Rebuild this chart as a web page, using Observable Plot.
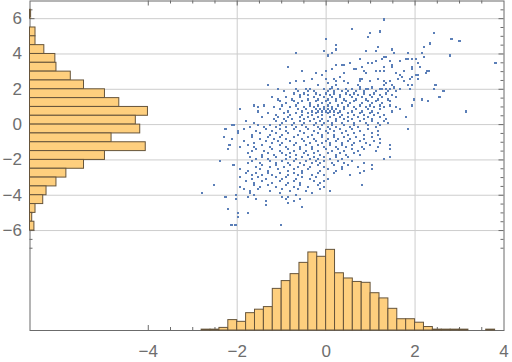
<!DOCTYPE html>
<html><head><meta charset="utf-8">
<script src="https://cdn.jsdelivr.net/npm/d3@7"></script>
<script src="https://cdn.jsdelivr.net/npm/@observablehq/plot@0.6"></script>
<style>
html,body{margin:0;padding:0;background:#fff;}
#chart{position:relative;width:512px;height:362px;overflow:hidden;}
#chart svg{position:absolute;left:0;top:0;}
</style></head><body><div id="chart"></div>
<script>
// ---- tick labels / grid ----
const xTickLabels = [-4, -2, 0, 2, 4];
const yTickLabels = [-6, -4, -2, 0, 2, 4, 6];
const xGridValues = [-2, 0, 2];
const yGridValues = [-6, -4, -2, 0, 2, 4, 6];
const xMajorTicks = [-4, -2, 0, 2];
const xMinorTicks = [-3.5, -3, -2.5, -1.5, -1, -0.5, 0.5, 1, 1.5, 2.5, 3, 3.5];
const yMajorTicks = [-6, -4, -2, 0, 2, 4, 6];
const yMinorTicks = [-7, -6.5, -5.5, -5, -4.5, -3.5, -3, -2.5, -1.5, -1, -0.5, 0.5, 1, 1.5, 2.5, 3, 3.5, 4.5, 5, 5.5, 6.5];

// ---- marginal histogram of x (bin width 0.2) ----
const xBinLeft = [-2.8,-2.6,-2.4,-2.2,-2.0,-1.8,-1.6,-1.4,-1.2,-1.0,-0.8,-0.6,-0.4,-0.2,0,0.2,0.4,0.6,0.8,1.0,1.2,1.4,1.6,1.8,2.0,2.2,2.4,2.6,2.8,3.0,3.2,3.4,3.6];
const xCounts  = [1,1,3,12,10,20,24,27,48,57,65,78,90,85,93,66,60,56,55,43,37,25,13,13,9,4,1,1,1,1,0,0,1];
const xBinWidth = 0.2;

// ---- marginal histogram of y (bin width 0.5) ----
const yBinLow = [6.0,5.5,5.0,4.5,4.0,3.5,3.0,2.5,2.0,1.5,1.0,0.5,0,-0.5,-1,-1.5,-2,-2.5,-3,-3.5,-4,-4.5,-5,-5.5,-6];
const yCounts = [1,0,5,5,13,23,24,37,49,68,81,107,96,100,74,105,68,49,33,24,15,12,5,2,4];
const yBinWidth = 0.5;

// ---- scatter: sparse outer points [x, y] ----
const scatterSparse = [
[1.30,5.96],[0.58,5.40],[0.98,5.17],[0.94,4.96],[1.21,5.28],[2.42,5.17],[2.82,4.83],[3.00,4.72],
[2.33,4.60],[2.20,4.38],[-0.01,4.83],[0.22,4.49],[0.22,4.26],[0.13,4.04],[-0.05,4.15],[0.04,3.92],
[-0.68,4.04],[0.89,4.15],[1.12,4.15],[1.16,4.38],[1.48,4.26],[1.52,4.04],[1.84,4.04],[2.15,4.04],
[2.78,3.92],[2.02,3.70],[2.20,3.81],[3.81,3.47],[1.30,3.81],[1.34,3.81],[1.25,3.70],[0.76,3.70],
[1.03,3.47],[1.12,3.59],[0.94,3.47],[1.43,3.59],[1.48,3.36],[1.66,3.59],[1.79,3.70],[1.84,3.70],
[1.93,3.70],[2.06,3.47],[2.11,3.25],[0.22,3.36],[0.35,3.36],[0.40,3.36],[0.53,3.47],[-0.86,3.25],
[0.80,3.25],[0.62,3.13],[0.67,3.13],[1.21,3.02],[1.12,3.02],[1.30,3.25],[1.30,3.02],[1.48,3.25],
[1.57,2.91],[1.75,3.02],[1.93,3.25],[1.93,3.13],[2.27,3.02],[2.32,3.02],[2.24,2.91],[2.06,2.79],
[2.02,2.79],[-0.55,3.02],[-0.23,2.91],[-0.01,3.02],[0.13,3.13],[0.40,2.91],[0.31,2.68],[0.40,2.45],
[-0.32,2.57],[-0.50,2.45],[-0.68,2.45],[-0.82,2.34],[-0.10,2.79],[-0.01,2.57],[0.17,2.57],[0.22,2.45],
[0.76,2.57],[0.80,2.57],[0.76,2.45],[0.85,3.02],[0.89,2.91],[0.98,2.45],[1.16,2.57],[1.30,2.45],
[1.34,2.34],[1.43,2.45],[1.61,2.57],[1.66,2.79],[1.70,2.68],[1.75,2.45],[1.88,2.57],[1.93,2.68],
[1.84,2.23],[1.93,2.23],[2.06,2.57],[2.46,2.23],[2.42,2.00],[2.64,1.89],[2.55,1.55],[-1.31,2.23],
[-1.09,2.00],[-0.95,1.89],[-0.19,2.23],[0.04,2.34],[0.13,2.11],[0.22,2.23],[0.49,2.34],[0.71,2.23],
[0.76,2.11],[0.89,2.00],[1.03,2.11],[1.21,2.00],[1.30,2.23],[1.34,2.00],[1.48,2.23],[1.52,2.11],
[1.66,2.00],[1.88,2.00],[2.15,1.43],[2.29,1.32],[1.97,1.43],[1.93,1.09],[3.14,0.75],
[-1.36,-4.34],[-0.73,-4.34],[-0.86,-4.45],[-1.36,-4.57],[-0.55,-4.68],[-2.21,-4.79],
[-1.99,-5.02],[-1.76,-5.02],[-1.99,-5.25],[-2.13,-5.70],[-2.04,-5.70],[-1.01,-5.70]
];

// ---- scatter: dense core, row by row [y, [x...]] ----
const scatterRows = [
[2.00,[-0.68,-0.46,-0.37,-0.05,0.08,0.26,0.44,0.58,0.76,0.94,1.25,1.43]],
[1.89,[-0.64,-0.41,-0.28,0.04,0.17,0.35,0.49,0.67,0.85,1.12,1.39,1.57]],
[1.77,[-0.73,-0.50,-0.23,-0.01,0.17,0.44,0.62,0.85,1.07,1.34]],
[1.66,[-0.59,-0.41,-0.14,0.08,0.31,0.53,0.71,0.98,1.21,1.48]],
[1.55,[-1.22,-0.91,-0.59,-0.28,-0.05,0.13,0.31,0.58,0.80,1.03,1.25,1.57]],
[1.43,[-1.09,-0.77,-0.41,-0.19,0.04,0.22,0.40,0.67,0.89,1.16,1.39]],
[1.32,[-1.04,-0.73,-0.55,-0.23,-0.01,0.22,0.44,0.62,0.94,1.12,1.43]],
[1.21,[-0.91,-0.64,-0.37,-0.10,0.08,0.35,0.53,0.80,1.03,1.25]],
[1.09,[-1.63,-1.40,-1.00,-0.68,-0.37,-0.19,0.04,0.26,0.49,0.76,0.98,1.21,1.43]],
[0.98,[-1.54,-1.18,-0.82,-0.50,-0.28,-0.05,0.13,0.40,0.62,0.89,1.07,1.30,1.57]],
[0.87,[-1.94,-1.04,-0.64,-0.46,-0.23,-0.14,-0.05,0.04,0.13,0.22,0.40,0.67,0.94,1.21,1.66]],
[0.75,[-1.54,-0.86,-0.55,-0.32,-0.19,-0.10,-0.01,0.08,0.17,0.31,0.58,0.80,1.03,1.48]],
[0.64,[-1.31,-0.95,-0.68,-0.41,-0.23,0.04,0.26,0.49,0.76,0.98,1.16]],
[0.53,[-1.13,-0.82,-0.55,-0.32,-0.10,0.17,0.35,0.62,0.85,1.07,1.30]],
[0.42,[-1.45,-1.09,-0.86,-0.59,-0.41,-0.19,0.08,0.31,0.49,0.71,0.94,1.21,1.79]],
[0.30,[-1.18,-0.95,-0.77,-0.50,-0.28,-0.10,0.22,0.40,0.58,0.85,1.03,1.34]],
[0.19,[-1.81,-1.13,-0.91,-0.59,-0.37,-0.14,0.04,0.22,0.49,0.76,1.03,1.30]],
[0.08,[-1.63,-1.00,-0.73,-0.50,-0.23,-0.05,0.13,0.35,0.62,0.89,1.16,1.39]],
[-0.04,[-2.12,-2.08,-1.54,-1.27,-1.04,-0.77,-0.55,-0.28,-0.10,0.13,0.40,0.62,0.94,1.21]],
[-0.15,[-1.72,-1.40,-1.13,-0.91,-0.68,-0.46,-0.19,0.04,0.22,0.53,0.71,1.12]],
[-0.26,[-2.26,-1.85,-1.36,-1.04,-0.73,-0.41,-0.14,0.08,0.31,0.58,0.94,1.84]],
[-0.38,[-1.99,-1.58,-1.22,-0.91,-0.59,-0.28,-0.01,0.17,0.44,0.76,1.16]],
[-0.49,[-1.99,-1.49,-1.13,-0.86,-0.50,-0.19,0.04,0.35,0.62,1.03]],
[-0.60,[-1.67,-1.27,-1.00,-0.64,-0.32,-0.10,0.17,0.49,0.85,1.16]],
[-0.72,[-2.30,-1.67,-1.31,-1.04,-0.73,-0.41,-0.10,0.17,0.40,0.67,1.03]],
[-0.83,[-2.12,-1.49,-1.18,-0.91,-0.55,-0.28,0.04,0.26,0.53,0.85,1.21]],
[-0.94,[-1.85,-1.36,-1.09,-0.82,-0.50,-0.23,-0.01,0.22,0.49,0.76,1.07]],
[-1.06,[-1.63,-1.22,-1.00,-0.68,-0.37,-0.10,0.08,0.35,0.62,0.89,1.21]],
[-1.17,[-2.17,-1.76,-1.45,-1.04,-0.73,-0.46,-0.19,0.08,0.35,0.58,0.98,1.43]],
[-1.28,[-1.94,-1.63,-1.27,-0.91,-0.59,-0.32,-0.05,0.22,0.44,0.80,1.16]],
[-1.40,[-2.21,-1.58,-1.22,-0.86,-0.59,-0.32,-0.01,0.26,0.58,0.85,1.43]],
[-1.51,[-1.67,-1.40,-1.04,-0.73,-0.46,-0.19,0.13,0.40,0.71,1.12]],
[-1.62,[-1.76,-1.31,-1.00,-0.82,-0.50,-0.28,0.04,0.31,0.62]],
[-1.74,[-1.45,-1.18,-0.91,-0.68,-0.41,-0.14,0.22,0.44,0.76]],
[-1.85,[-1.72,-1.45,-1.13,-0.82,-0.55,-0.28,-0.05,0.22,0.49,1.43]],
[-1.96,[-1.58,-1.31,-0.91,-0.68,-0.37,-0.19,0.08,0.35,1.30]],
[-2.08,[-2.39,-1.67,-1.27,-1.00,-0.73,-0.46,-0.23,-0.05,0.26,0.58]],
[-2.19,[-1.76,-1.49,-1.13,-0.86,-0.59,-0.32,-0.14,0.13,0.40,0.85]],
[-2.30,[-2.08,-1.45,-1.13,-0.82,-0.50,-0.19,0.17,0.49,1.03]],
[-2.42,[-1.58,-1.27,-0.95,-0.64,-0.37,-0.05,0.35,0.71]],
[-2.53,[-1.94,-1.49,-1.09,-0.73,-0.41,0.04,0.35,1.03]],
[-2.64,[-1.76,-1.31,-0.86,-0.55,-0.14,0.22,0.85]],
[-2.76,[-1.81,-1.58,-1.31,-1.04,-0.73,-0.55,-0.19,0.17,0.76]],
[-2.87,[-1.67,-1.45,-1.22,-0.86,-0.64,-0.32,-0.05,0.53]],
[-2.98,[-1.94,-1.54,-1.13,-0.91,-0.55,-0.23]],
[-3.09,[-1.67,-1.36,-1.00,-0.68,-0.37,0.04]],
[-3.21,[-1.81,-1.45,-1.04,-0.73,-0.28,-0.05]],
[-3.32,[-1.63,-1.22,-0.86,-0.59,-0.14]],
[-3.43,[-2.52,-1.63,-1.31,-0.91,-0.59,-0.19,0.80]],
[-3.55,[-1.94,-1.49,-1.13,-0.73,-0.41,-0.05]],
[-3.66,[-1.85,-1.54,-1.00,-0.64,-0.14]],
[-3.77,[-1.72,-1.27,-0.82,-0.46,0.08]],
[-3.89,[-2.79,-1.72,-1.04,-0.32]],
[-4.00,[-2.03,-1.63,-0.68]],
[-4.11,[-2.26,-1.76,-1.00,-0.86]],
[-4.23,[-2.03,-1.58,-0.91,-0.59]]
];

// ---- build tables ----
const points = scatterSparse.map(([x, y]) => ({x, y}))
  .concat(scatterRows.flatMap(([y, xs]) => xs.map(x => ({x, y}))));
const xHist = xBinLeft.map((x1, i) => ({x1, x2: x1 + xBinWidth, count: xCounts[i]})).filter(d => d.count > 0);
const yHist = yBinLow.map((y1, i) => ({y1, y2: y1 + yBinWidth, count: yCounts[i]})).filter(d => d.count > 0);

// ---- layout ----
const W = 512, H = 362, ML = 29.5, MR = 8.5, MT = 0.5, MB = 32;
const innerW = W - ML - MR, innerH = H - MT - MB;
const xDomain = [-6.66, 4.0], yDomain = [-11.66, 7.0];
const axisColor = "#6b6b6b", gridColor = "#cdcdcd";
const barFill = "#fecf7e", barStroke = "#66543a";
const common = {
  width: W, height: H, marginLeft: ML, marginRight: MR, marginTop: MT, marginBottom: MB,
  style: {background: "transparent", fontFamily: "'Liberation Sans', Arial, sans-serif", fontSize: "17px", color: "#666", overflow: "visible"}
};

const main = Plot.plot({
  ...common,
  x: {domain: xDomain},
  y: {domain: yDomain},
  marks: [
    Plot.ruleX(xGridValues, {stroke: gridColor, strokeWidth: 1}),
    Plot.ruleY(yGridValues, {stroke: gridColor, strokeWidth: 1}),
    Plot.dot(points, {x: "x", y: "y", symbol: "square", r: 1.3, fill: "#5b7fb8", stroke: null, shapeRendering: "crispEdges"}),
    Plot.frame({stroke: axisColor, strokeWidth: 1}),
    Plot.ruleX(xMajorTicks, {stroke: axisColor, insetTop: innerH - 5}),
    Plot.ruleX(xMajorTicks, {stroke: axisColor, insetBottom: innerH - 5}),
    Plot.ruleX(xMinorTicks, {stroke: axisColor, insetTop: innerH - 3}),
    Plot.ruleX(xMinorTicks, {stroke: axisColor, insetBottom: innerH - 3}),
    Plot.ruleY(yMajorTicks, {stroke: axisColor, insetRight: innerW - 5}),
    Plot.ruleY(yMajorTicks, {stroke: axisColor, insetLeft: innerW - 5}),
    Plot.ruleY(yMinorTicks, {stroke: axisColor, insetRight: innerW - 3}),
    Plot.ruleY(yMinorTicks, {stroke: axisColor, insetLeft: innerW - 3}),
    Plot.axisX(xTickLabels, {anchor: "bottom", tickSize: 0, tickPadding: 14, fill: "#6e6e6e", label: null}),
    Plot.axisY(yTickLabels, {anchor: "left", tickSize: 0, tickPadding: 8, fill: "#6e6e6e", label: null})
  ]
});

const bottomHist = Plot.plot({
  ...common,
  x: {domain: xDomain, axis: null},
  y: {domain: [0, 380], axis: null},
  marks: [
    Plot.rectY(xHist, {x1: "x1", x2: "x2", y: "count", fill: barFill, stroke: barStroke, strokeWidth: 1, inset: 0})
  ]
});

const leftHist = Plot.plot({
  ...common,
  x: {domain: [0, 430], axis: null},
  y: {domain: yDomain, axis: null},
  marks: [
    Plot.rectX(yHist, {y1: "y1", y2: "y2", x: "count", fill: barFill, stroke: barStroke, strokeWidth: 1, inset: 0})
  ]
});

const box = document.getElementById("chart");
box.append(main, bottomHist, leftHist);
</script></body></html>
